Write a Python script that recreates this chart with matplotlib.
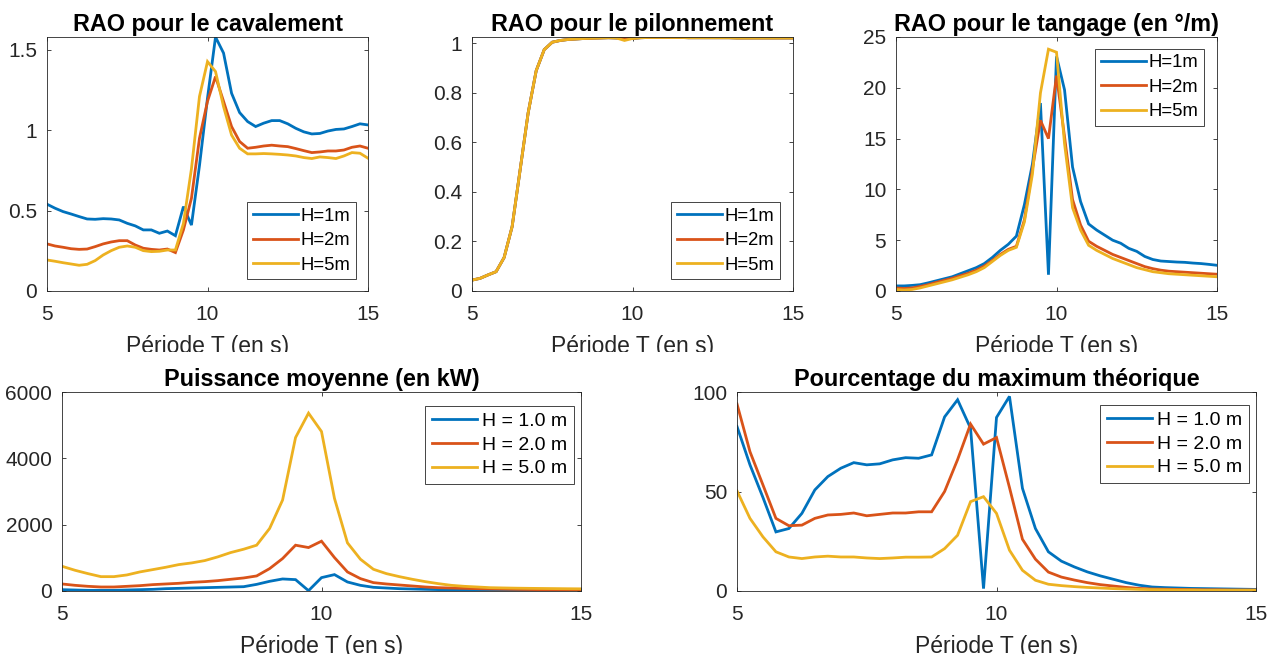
import matplotlib
matplotlib.use('Agg')
import matplotlib.pyplot as plt
from matplotlib.transforms import Bbox, TransformedBbox

plt.rcParams['font.family'] = ['Liberation Sans', 'DejaVu Sans']

# ---------------- data ----------------
period = [5.0, 5.25, 5.5, 5.75, 6.0, 6.25, 6.5, 6.75, 7.0, 7.25, 7.5, 7.75, 8.0, 8.25, 8.5, 8.75,
          9.0, 9.25, 9.5, 9.75, 10.0, 10.25, 10.5, 10.75, 11.0, 11.25, 11.5, 11.75, 12.0, 12.25,
          12.5, 12.75, 13.0, 13.25, 13.5, 13.75, 14.0, 14.25, 14.5, 14.75, 15.0]

surge_h1 = [0.54, 0.515, 0.494, 0.479, 0.463, 0.448, 0.446, 0.45, 0.448, 0.442, 0.421, 0.405, 0.38, 0.38,
            0.359, 0.373, 0.344, 0.525, 0.41, 0.78, 1.2, 1.58, 1.48, 1.23, 1.11, 1.054, 1.023, 1.044,
            1.06, 1.06, 1.04, 1.012, 0.99, 0.977, 0.98, 0.995, 1.005, 1.008, 1.023, 1.04, 1.033]
surge_h2 = [0.293, 0.28, 0.272, 0.263, 0.259, 0.261, 0.276, 0.293, 0.305, 0.313, 0.313, 0.286, 0.266,
            0.259, 0.255, 0.261, 0.239, 0.38, 0.577, 0.95, 1.18, 1.334, 1.18, 1.023, 0.93, 0.888, 0.894,
            0.902, 0.907, 0.902, 0.898, 0.886, 0.873, 0.861, 0.865, 0.871, 0.871, 0.877, 0.894, 0.902, 0.888]
surge_h5 = [0.193, 0.185, 0.176, 0.168, 0.16, 0.166, 0.189, 0.224, 0.251, 0.272, 0.28, 0.272, 0.251,
            0.245, 0.247, 0.255, 0.255, 0.42, 0.76, 1.21, 1.427, 1.365, 1.147, 0.97, 0.888, 0.853, 0.853,
            0.855, 0.853, 0.85, 0.846, 0.84, 0.83, 0.824, 0.834, 0.83, 0.824, 0.84, 0.861, 0.857, 0.826]

heave_h1 = [0.044, 0.051, 0.065, 0.078, 0.135, 0.26, 0.49, 0.72, 0.89, 0.975, 1.005, 1.012, 1.016, 1.018,
            1.02, 1.021, 1.022, 1.023, 1.022, 1.026, 1.02, 1.023, 1.024, 1.024, 1.024, 1.024, 1.024,
            1.023, 1.023, 1.023, 1.023, 1.023, 1.023, 1.022, 1.022, 1.022, 1.022, 1.022, 1.022, 1.022, 1.022]
heave_h2 = [0.044, 0.051, 0.065, 0.078, 0.135, 0.26, 0.49, 0.72, 0.89, 0.975, 1.005, 1.012, 1.016, 1.018,
            1.02, 1.021, 1.022, 1.023, 1.022, 1.02, 1.02, 1.023, 1.024, 1.024, 1.024, 1.024, 1.024,
            1.023, 1.023, 1.023, 1.023, 1.023, 1.023, 1.022, 1.022, 1.022, 1.022, 1.022, 1.022, 1.022, 1.022]
heave_h5 = [0.044, 0.051, 0.065, 0.078, 0.135, 0.26, 0.49, 0.72, 0.89, 0.975, 1.005, 1.012, 1.016, 1.018,
            1.02, 1.021, 1.022, 1.023, 1.022, 1.012, 1.02, 1.023, 1.024, 1.024, 1.024, 1.024, 1.024,
            1.023, 1.023, 1.023, 1.023, 1.023, 1.023, 1.022, 1.022, 1.022, 1.022, 1.022, 1.022, 1.022, 1.022]

pitch_h1 = [0.5, 0.5, 0.55, 0.62, 0.8, 1.0, 1.2, 1.4, 1.7, 2.0, 2.3, 2.7, 3.3, 4.0, 4.6, 5.4, 8.5, 12.5,
            18.5, 1.6, 23.1, 19.8, 12.2, 8.8, 6.6, 6.0, 5.5, 5.0, 4.7, 4.2, 3.9, 3.4, 3.1, 2.95, 2.9,
            2.85, 2.82, 2.75, 2.7, 2.62, 2.53]
pitch_h2 = [0.3, 0.25, 0.3, 0.45, 0.62, 0.85, 1.05, 1.25, 1.5, 1.75, 2.05, 2.45, 3.0, 3.6, 4.1, 4.4, 7.0,
            12.0, 16.8, 15.0, 21.2, 15.2, 9.0, 6.5, 4.9, 4.4, 4.0, 3.6, 3.3, 3.0, 2.7, 2.4, 2.2, 2.05,
            1.95, 1.9, 1.85, 1.8, 1.75, 1.7, 1.65]
pitch_h5 = [0.15, 0.1, 0.15, 0.3, 0.5, 0.7, 0.9, 1.1, 1.35, 1.6, 1.9, 2.3, 2.9, 3.5, 4.0, 4.3, 6.8, 11.5,
            19.5, 23.8, 23.5, 14.5, 8.2, 6.0, 4.5, 4.0, 3.6, 3.2, 2.9, 2.6, 2.3, 2.1, 1.9, 1.8, 1.7,
            1.65, 1.6, 1.55, 1.5, 1.45, 1.4]

power_h1 = [40, 30, 20, 20, 20, 30, 40, 50, 70, 80, 90, 100, 110, 120, 130, 200, 292, 363, 343, 10, 403,
            494, 272, 171, 111, 90, 70, 60, 50, 42, 35, 30, 25, 22, 19, 17, 15, 13, 12, 11, 10]
power_h2 = [212, 171, 141, 121, 121, 141, 161, 192, 212, 232, 262, 282, 312, 353, 393, 454, 675, 978,
            1381, 1310, 1502, 1008, 575, 373, 252, 212, 181, 151, 121, 100, 90, 80, 70, 62, 56, 50, 45,
            40, 36, 32, 28]
power_h5 = [746, 625, 524, 433, 433, 484, 575, 645, 716, 796, 847, 917, 1028, 1159, 1260, 1381, 1885,
            2742, 4627, 5363, 4808, 2792, 1452, 958, 655, 524, 433, 353, 282, 222, 171, 141, 121, 100,
            92, 85, 80, 76, 72, 68, 65]

pct_h1 = [82.7, 63.4, 47, 29.7, 31.4, 39, 50.8, 57.5, 61.7, 64.5, 63.4, 63.9, 65.9, 67, 66.7, 68.4, 87.5,
          96.1, 81.8, 1.2, 87.2, 97.8, 51.6, 31.4, 19.7, 15, 12.1, 9.6, 7.6, 5.9, 4.2, 2.9, 2.0, 1.7,
          1.5, 1.3, 1.2, 1.1, 1.0, 0.9, 0.8]
pct_h2 = [94, 70, 53.3, 36.5, 32.8, 33.1, 36.5, 38.2, 38.5, 39.2, 37.8, 38.5, 39.2, 39.2, 39.8, 39.8, 50,
          66, 83.9, 73.8, 77.1, 52, 26, 16, 9.5, 7, 5.5, 4.2, 3.2, 2.5, 1.8, 1.3, 1.0, 0.9, 0.8, 0.7,
          0.6, 0.6, 0.5, 0.5, 0.5]
pct_h5 = [50.3, 36.5, 27.2, 19.7, 17.1, 16.3, 17.1, 17.5, 17.1, 17.1, 16.6, 16.3, 16.6, 17, 17, 17.1,
          21.3, 28, 44.9, 47.4, 39, 20.5, 10.4, 5.4, 3.4, 2.7, 2.2, 1.8, 1.5, 1.2, 1.0, 0.8, 0.7, 0.6,
          0.5, 0.5, 0.4, 0.4, 0.4, 0.4, 0.4]

labels_top = ['H=1m', 'H=2m', 'H=5m']
labels_bottom = ['H = 1.0 m', 'H = 2.0 m', 'H = 5.0 m']
titles = ['RAO pour le cavalement', 'RAO pour le pilonnement', 'RAO pour le tangage (en °/m)',
          'Puissance moyenne (en kW)', 'Pourcentage du maximum théorique']
xlabel = 'Période T (en s)'
xticks = [5, 10, 15]
xticklabels = ['5', '10', '15']
yticks_surge = [0, 0.5, 1, 1.5]
yticklabels_surge = ['0', '0.5', '1', '1.5']
yticks_heave = [0, 0.2, 0.4, 0.6, 0.8, 1]
yticklabels_heave = ['0', '0.2', '0.4', '0.6', '0.8', '1']
yticks_pitch = [0, 5, 10, 15, 20, 25]
yticklabels_pitch = ['0', '5', '10', '15', '20', '25']
yticks_power = [0, 2000, 4000, 6000]
yticklabels_power = ['0', '2000', '4000', '6000']
yticks_pct = [0, 50, 100]
yticklabels_pct = ['0', '50', '100']

# ---------------- figure ----------------
W, H = 1280, 654
fig = plt.figure(figsize=(12.8, 6.54), dpi=100)
TXT = '#262626'
COLORS = ['#0072BD', '#D95319', '#EDB120']


def add_ax(l, t, r, b):
    return fig.add_axes([l / W, 1 - b / H, (r - l) / W, (b - t) / H])


def draw(ax, series, labels, title, ylim, yticks, yticklabels, loc, anchor, clip_label, leg_kw):
    for s, lab, c in zip(series, labels, COLORS):
        ax.plot(period, s, color=c, lw=2.0, label=lab, solid_joinstyle='miter')
    ax.set_xlim(5, 15)
    ax.set_ylim(*ylim)
    ax.set_xticks(xticks)
    ax.set_xticklabels(xticklabels)
    ax.set_yticks(yticks)
    ax.set_yticklabels(yticklabels)
    ax.tick_params(direction='in', length=3, width=0.6, colors=TXT, labelsize=15,
                   top=True, right=True, pad=7)
    ax.tick_params(axis='x', pad=10)
    for sp in ax.spines.values():
        sp.set_color(TXT)
        sp.set_linewidth(0.6)
    ax.set_title(title, fontsize=16.8, fontweight='bold', color='black', pad=4)
    xl = ax.set_xlabel(xlabel, fontsize=16.5, color=TXT, labelpad=8)
    if clip_label:
        bb = TransformedBbox(Bbox([[0, 1 - 352 / H], [1, 1]]), fig.transFigure)
        xl.set_clip_box(bb)
        xl.set_clip_on(True)
    leg = ax.legend(loc=loc, bbox_to_anchor=anchor, borderaxespad=0,
                    fancybox=False, framealpha=1, edgecolor=TXT, **leg_kw)
    leg.get_frame().set_linewidth(0.6)
    for t in leg.get_texts():
        t.set_color('black')


leg_top = dict(fontsize=13.3, handlelength=2.45, handletextpad=0.15, borderpad=0.3, labelspacing=0.4)
leg_bot = dict(fontsize=14, handlelength=2.35, handletextpad=0.25, borderpad=0.34, labelspacing=0.31)

ax1 = add_ax(47, 37, 368, 291)
draw(ax1, [surge_h1, surge_h2, surge_h5], labels_top, titles[0], (0, 1.58),
     yticks_surge, yticklabels_surge, 'lower right', (0.963, 0.047), True, leg_top)

ax2 = add_ax(472, 37, 793, 291)
draw(ax2, [heave_h1, heave_h2, heave_h5], labels_top, titles[1], (0, 1.026),
     yticks_heave, yticklabels_heave, 'lower right', (0.96, 0.047), True, leg_top)

ax3 = add_ax(896, 37, 1217, 291)
draw(ax3, [pitch_h1, pitch_h2, pitch_h5], labels_top, titles[2], (0, 25),
     yticks_pitch, yticklabels_pitch, 'upper right', (0.96, 0.953), True, leg_top)

ax4 = add_ax(62, 392, 581, 591)
draw(ax4, [power_h1, power_h2, power_h5], labels_bottom, titles[3], (0, 6000),
     yticks_power, yticklabels_power, 'upper right', (0.9865, 0.93), False, leg_bot)

ax5 = add_ax(737, 392, 1256, 591)
draw(ax5, [pct_h1, pct_h2, pct_h5], labels_bottom, titles[4], (0, 100),
     yticks_pct, yticklabels_pct, 'upper right', (0.9865, 0.935), False, leg_bot)

fig.savefig('out.png', dpi=100)
